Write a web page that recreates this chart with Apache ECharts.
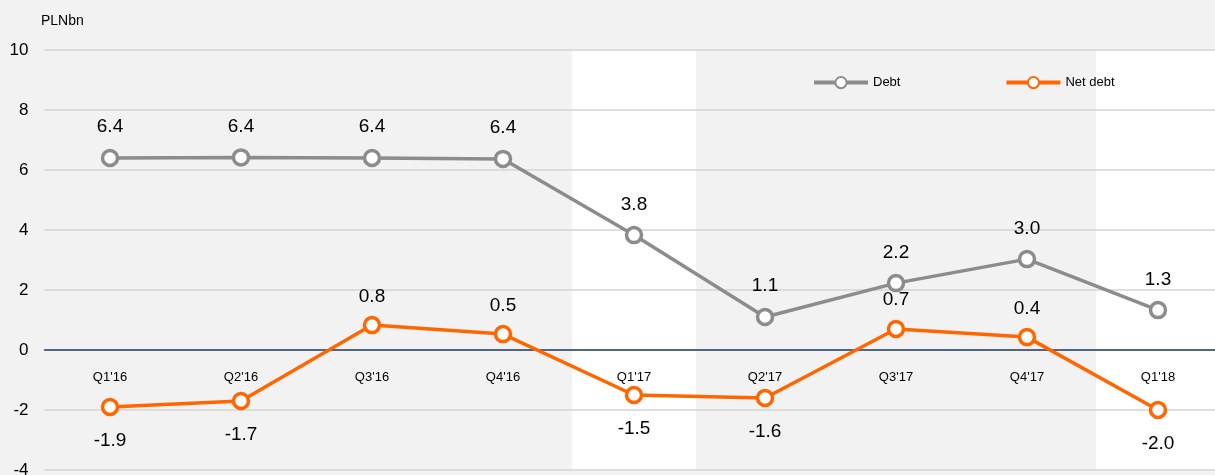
<!DOCTYPE html>
<html><head><meta charset="utf-8">
<script src="https://cdn.jsdelivr.net/npm/echarts@6/dist/echarts.min.js"></script>
<style>html,body{margin:0;padding:0;background:#f2f2f2}#c{width:1215px;height:475px}</style>
</head><body><div id="c"></div>
<script>
const categories = ["Q1'16","Q2'16","Q3'16","Q4'16","Q1'17","Q2'17","Q3'17","Q4'17","Q1'18"];
const debt = [6.4, 6.42, 6.4, 6.37, 3.83, 1.1, 2.23, 3.03, 1.33];
const netDebt = [-1.9, -1.7, 0.83, 0.53, -1.5, -1.6, 0.7, 0.43, -2.0];
const debtLabels = ["6.4","6.4","6.4","6.4","3.8","1.1","2.2","3.0","1.3"];
const netDebtLabels = ["-1.9","-1.7","0.8","0.5","-1.5","-1.6","0.7","0.4","-2.0"];
const highlighted = [0, 0, 0, 0, 1, 0, 0, 0, 1];
const FONT = "Liberation Sans, Arial, sans-serif";
const chart = echarts.init(document.getElementById('c'));
chart.setOption({
  backgroundColor: '#f2f2f2',
  animation: false,
  textStyle: {fontFamily: FONT},
  title: {text: 'PLNbn', left: 36, top: 9, textStyle: {fontSize: 14, fontWeight: 'normal', color: '#000', fontFamily: FONT}},
  legend: {
    left: 812, top: 76, padding: 0, itemWidth: 54, itemHeight: 14, itemGap: 104,
    lineStyle: {width: 4},
    textStyle: {fontSize: 13, color: '#000', fontFamily: FONT},
    data: ['Debt','Net debt']
  },
  grid: {left: 44.5, right: -8.5, top: 50, bottom: 5, containLabel: false, outerBoundsMode: 'none'},
  xAxis: {
    type: 'category', data: categories, boundaryGap: true, position: 'bottom', offset: -120,
    axisLine: {onZero: false, lineStyle: {color: '#1f3e66', width: 1.5}},
    axisTick: {show: false},
    axisLabel: {margin: 21, fontSize: 13, color: '#000', fontFamily: FONT},
    splitLine: {show: false}
  },
  yAxis: [{
    type: 'value', min: -4, max: 10, interval: 2,
    axisLine: {show: false}, axisTick: {show: false},
    axisLabel: {margin: 16, fontSize: 17, color: '#000', fontFamily: FONT},
    splitLine: {lineStyle: {color: '#d4d4d4', width: 1.5}}
  }, {
    type: 'value', min: 0, max: 1, show: false
  }],
  series: [
    {
      name: 'band', type: 'bar', yAxisIndex: 1, data: highlighted,
      barWidth: 124, silent: true, itemStyle: {color: '#ffffff'}, z: -1
    },
    {
      name: 'Debt', type: 'line', data: debt,
      symbol: 'circle', symbolSize: 15,
      lineStyle: {color: '#8c8c8c', width: 3.5},
      itemStyle: {color: '#ffffff', borderColor: '#8c8c8c', borderWidth: 3.5},
      label: {show: true, position: 'top', distance: 12, fontSize: 19, color: '#000', fontFamily: FONT,
        formatter: p => debtLabels[p.dataIndex]},
      z: 3
    },
    {
      name: 'Net debt', type: 'line',
      symbol: 'circle', symbolSize: 15,
      lineStyle: {color: '#ff6600', width: 3.5},
      itemStyle: {color: '#ffffff', borderColor: '#ff6600', borderWidth: 3.5},
      label: {show: true, fontSize: 19, color: '#000', fontFamily: FONT,
        formatter: p => netDebtLabels[p.dataIndex]},
      data: netDebt.map(v => ({value: v, label: {position: v >= 0 ? 'top' : 'bottom', distance: v >= 0 ? 10 : 15}})),
      z: 4
    }
  ]
});
</script></body></html>
